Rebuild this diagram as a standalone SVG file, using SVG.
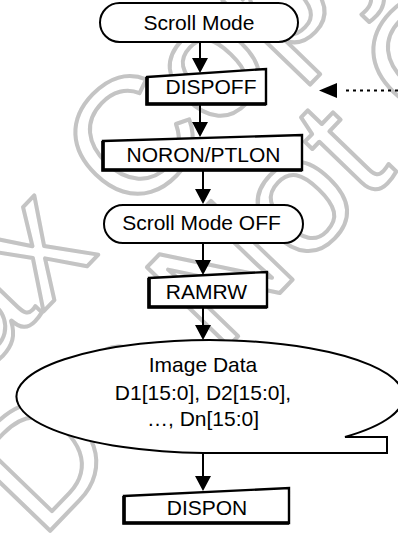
<svg xmlns="http://www.w3.org/2000/svg" width="398" height="534" viewBox="0 0 398 534">
<style>
.wm{font-family:"Liberation Sans",Arial,sans-serif;font-size:165px;fill:none;stroke:#c4c4c4;stroke-width:4;stroke-linejoin:round}
.shape{fill:#fff;stroke:#000;stroke-width:2}
.box{fill:#fff;stroke:#000;stroke-width:2.4;stroke-linejoin:miter}
.edge{fill:none;stroke:#000;stroke-width:3.6;stroke-linejoin:miter}
.lbl{font-family:"Liberation Sans",Arial,sans-serif;font-size:21px;fill:#000;text-anchor:middle}
.conn{stroke:#000;stroke-width:2;fill:none}
.dot{stroke:#000;stroke-width:2;fill:none;stroke-dasharray:3 4}
</style>
<defs>
<marker id="ah" viewBox="0 0 15 16" refX="10" refY="8" markerWidth="15" markerHeight="16" markerUnits="userSpaceOnUse" orient="auto">
<path d="M0,0 L15,8 L0,16 z" fill="#000"/>
</marker>
</defs>
<rect width="398" height="534" fill="#fff"/>
<g id="watermark">
<text class="wm" transform="translate(40,253) rotate(-46)" x="-234" y="43">Fax Copy</text>
<text class="wm" transform="translate(303,207) rotate(-46)" x="-422" y="43">Do Not Copy</text>
</g>
<g id="connectors">
<line class="conn" x1="200" y1="42" x2="200" y2="68" marker-end="url(#ah)"/>
<line class="conn" x1="200" y1="104" x2="200" y2="132" marker-end="url(#ah)"/>
<line class="conn" x1="203" y1="170" x2="203" y2="199" marker-end="url(#ah)"/>
<line class="conn" x1="203" y1="243" x2="203" y2="270" marker-end="url(#ah)"/>
<line class="conn" x1="203" y1="307" x2="203" y2="335" marker-end="url(#ah)"/>
<line class="conn" x1="203" y1="453" x2="203" y2="486" marker-end="url(#ah)"/>
<line class="dot" x1="398" y1="90.5" x2="342" y2="90.5"/>
<polygon points="319,90.5 337,83 337,98" fill="#000"/>
</g>
<g id="scroll-mode">
<rect class="shape" x="100" y="3" width="198" height="39" rx="19.5"/>
<text class="lbl" x="199" y="30">Scroll Mode</text>
</g>
<g id="dispoff">
<polygon class="box" points="147,77 266,69 266,104 147,104"/>
<polyline class="edge" points="147,77 147,104 266,104"/>
<text class="lbl" x="211" y="94">DISPOFF</text>
</g>
<g id="noron-ptlon">
<polygon class="box" points="103,141 302,135 302,170 103,170"/>
<polyline class="edge" points="103,141 103,170 302,170"/>
<text class="lbl" x="203.5" y="162">NORON/PTLON</text>
</g>
<g id="scroll-mode-off">
<rect class="shape" x="104" y="205" width="199" height="38" rx="19"/>
<text class="lbl" x="201.5" y="230">Scroll Mode OFF</text>
</g>
<g id="ramrw">
<polygon class="box" points="149,278 267,272 267,307 149,307"/>
<polyline class="edge" points="149,278 149,307 267,307"/>
<text class="lbl" x="206.5" y="299">RAMRW</text>
</g>
<g id="image-data">
<path class="shape" d="M387,453 L387,437 L345,437 A193.5,56.5 0 1 0 203.5,453 Z"/>
<text class="lbl" x="203" y="372">Image Data</text>
<text class="lbl" x="203" y="400">D1[15:0], D2[15:0],</text>
<text class="lbl" x="203" y="426">…, Dn[15:0]</text>
</g>
<g id="dispon">
<polygon class="box" points="124,496 289,488 289,523 124,523"/>
<polyline class="edge" points="124,496 124,523 289,523"/>
<text class="lbl" x="207" y="515">DISPON</text>
</g>
</svg>
